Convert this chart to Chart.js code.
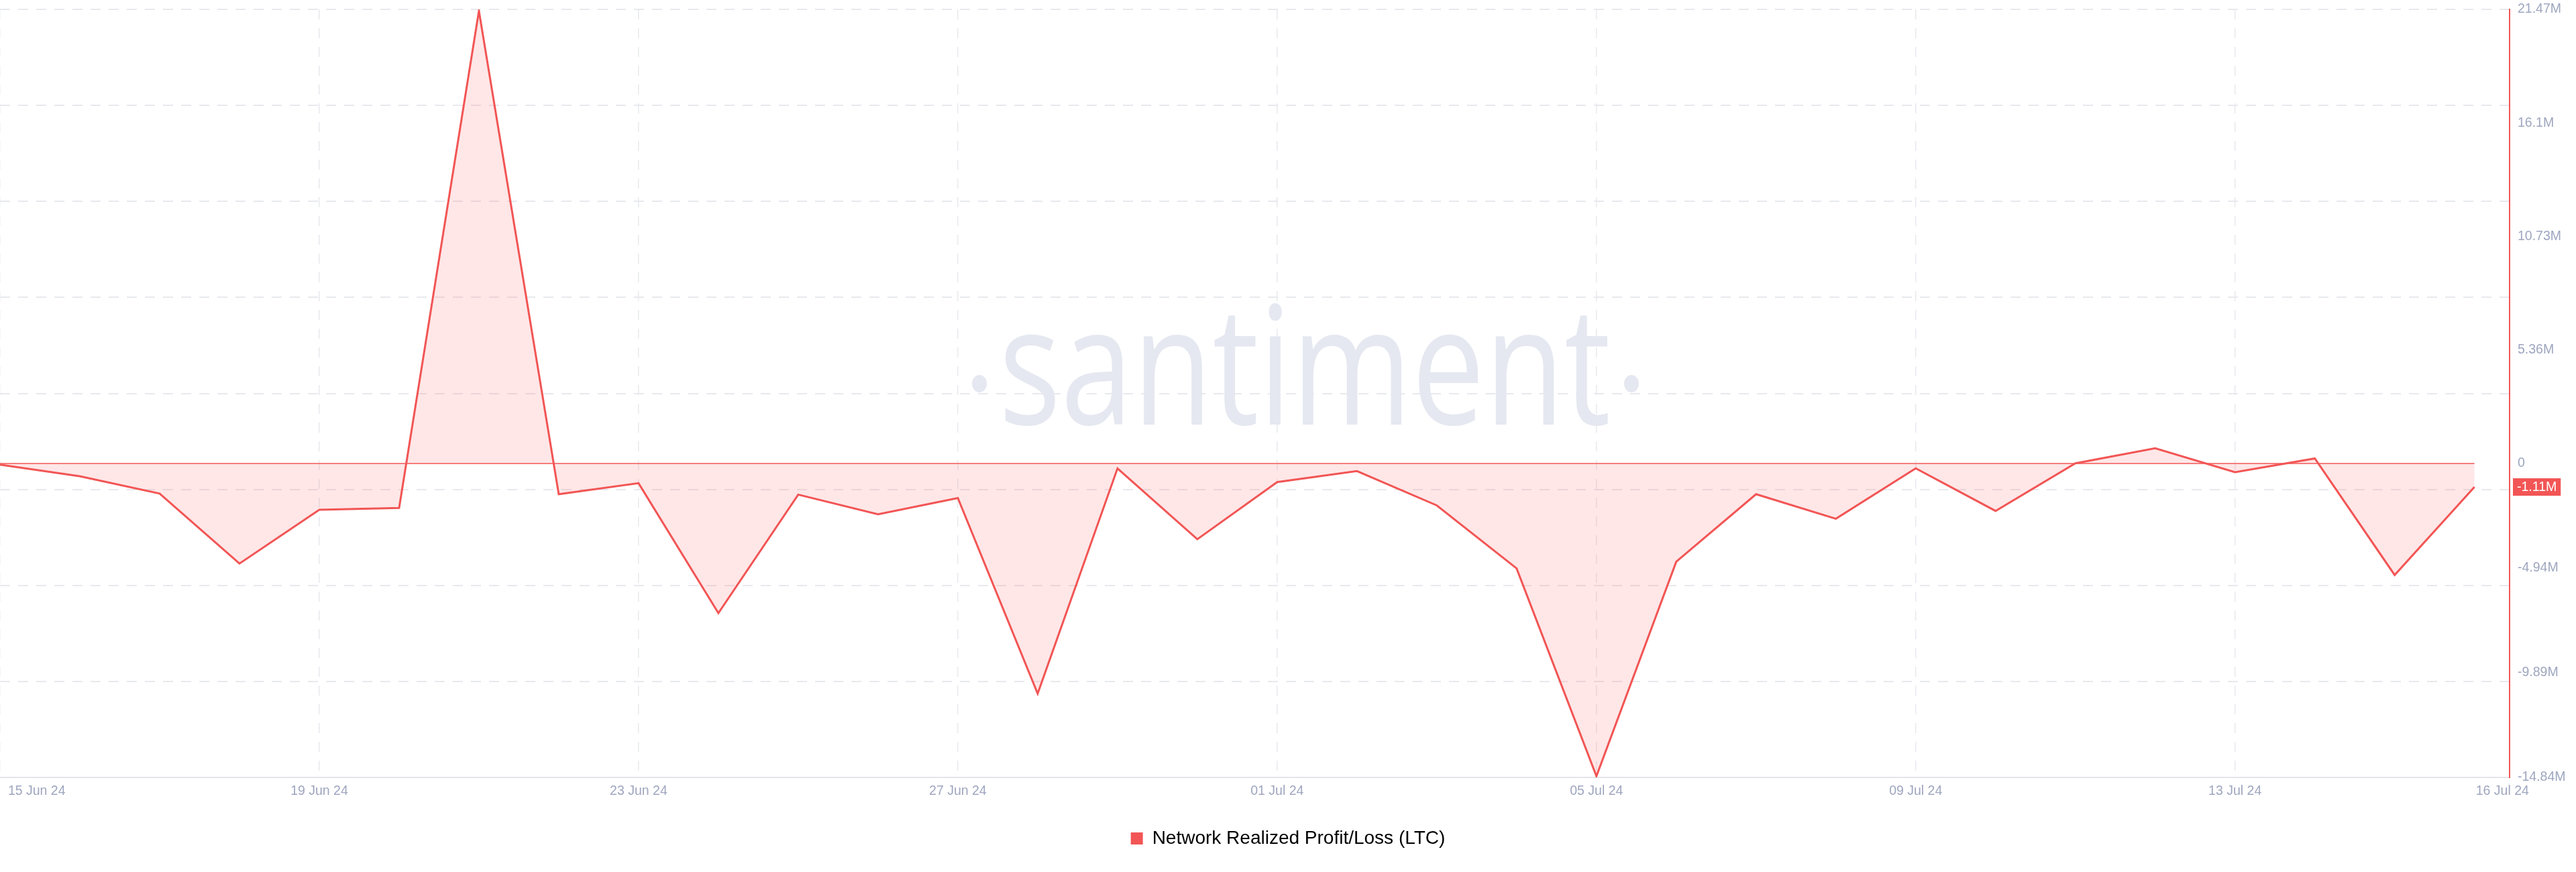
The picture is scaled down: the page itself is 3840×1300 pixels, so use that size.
<!DOCTYPE html>
<html><head><meta charset="utf-8">
<script src="https://cdn.jsdelivr.net/npm/chart.js@4.4.1/dist/chart.umd.min.js"></script>
<style>html,body{margin:0;padding:0;background:#fff;} canvas{display:block;}</style>
</head><body>
<canvas id="c" width="3840" height="1300"></canvas>
<script>
// ---- data ----
const dates = ['15 Jun 24','16 Jun 24','17 Jun 24','18 Jun 24','19 Jun 24','20 Jun 24','21 Jun 24','22 Jun 24',
  '23 Jun 24','24 Jun 24','25 Jun 24','26 Jun 24','27 Jun 24','28 Jun 24','29 Jun 24','30 Jun 24',
  '01 Jul 24','02 Jul 24','03 Jul 24','04 Jul 24','05 Jul 24','06 Jul 24','07 Jul 24','08 Jul 24',
  '09 Jul 24','10 Jul 24','11 Jul 24','12 Jul 24','13 Jul 24','14 Jul 24','15 Jul 24','16 Jul 24'];
// Network Realized Profit/Loss, millions of LTC
const values = [-0.05, -0.60, -1.42, -4.73, -2.19, -2.10, 21.40, -1.45,
  -0.93, -7.07, -1.47, -2.40, -1.63, -10.88, -0.23, -3.58,
  -0.88, -0.36, -1.98, -4.96, -14.78, -4.64, -1.45, -2.61,
  -0.23, -2.24, 0.01, 0.72, -0.41, 0.24, -5.27, -1.11];
const xTickLabels = ['15 Jun 24','19 Jun 24','23 Jun 24','27 Jun 24','01 Jul 24','05 Jul 24','09 Jul 24','13 Jul 24','16 Jul 24'];
const yTickValues = [21.47, 16.1, 10.73, 5.36, 0, -4.94, -9.89, -14.84];
const yTickLabels = ['21.47M','16.1M','10.73M','5.36M','0','-4.94M','-9.89M','-14.84M'];
const seriesName = 'Network Realized Profit/Loss (LTC)';

// ---- style ----
const RED = '#f25555';
const FILL = 'rgba(255, 92, 92, 0.15)';
const TICK_COLOR = '#9ea6bf';
const GRID_COLOR = '#e8e9ee';
const FONT = '"Liberation Sans", Arial, sans-serif';

const xTickDays = xTickLabels.map(l => dates.indexOf(l));
const lastIdx = dates.length - 1;

const watermark = {
  id: 'watermark',
  beforeDatasetsDraw(chart) {
    const ctx = chart.ctx;
    ctx.save();
    ctx.fillStyle = '#e5e8f0';
    ctx.font = '245px "Open Sans", "Noto Sans", sans-serif';
    ctx.textAlign = 'center';
    ctx.textBaseline = 'alphabetic';
    ctx.translate(1945, 633);
    ctx.scale(0.79, 1);
    ctx.fillText('santiment', 0, 0);
    ctx.restore();
    ctx.save();
    ctx.fillStyle = '#e5e8f0';
    [1460, 2432].forEach(x => { ctx.beginPath(); ctx.ellipse(x, 572, 11, 13, 0, 0, Math.PI * 2); ctx.fill(); });
    ctx.restore();
  }
};

const lastBadge = {
  id: 'lastBadge',
  afterDraw(chart) {
    const y = chart.scales.y;
    const v = values[lastIdx];
    const py = y.getPixelForValue(v);
    const ctx = chart.ctx;
    ctx.save();
    ctx.font = '19.5px ' + FONT;
    const txt = v.toFixed(2) + 'M';
    const w = ctx.measureText(txt).width + 12;
    ctx.fillStyle = RED;
    ctx.fillRect(y.left + 5, py - 13, w, 26);
    ctx.fillStyle = '#ffffff';
    ctx.textBaseline = 'middle';
    ctx.fillText(txt, y.left + 11, py + 1);
    ctx.restore();
  }
};

new Chart(document.getElementById('c'), {
  type: 'line',
  data: {
    datasets: [
      {
        label: seriesName,
        data: values.map((v, i) => ({x: i, y: v})),
        borderColor: RED,
        backgroundColor: FILL,
        borderWidth: 3,
        fill: 'origin',
        tension: 0,
        pointRadius: 0,
        xAxisID: 'x', yAxisID: 'y'
      },
      {
        label: 'zero',
        data: values.map((v, i) => ({x: i, y: 0})),
        borderColor: RED,
        borderWidth: 1.5,
        fill: false,
        pointRadius: 0,
        xAxisID: 'x', yAxisID: 'y'
      }
    ]
  },
  options: {
    responsive: false,
    animation: false,
    layout: {padding: {top: 14, bottom: 26, left: 0, right: 0}},
    plugins: {
      legend: {
        display: true,
        position: 'bottom',
        labels: {
          boxWidth: 18, boxHeight: 18, padding: 10,
          color: '#1b1b1b',
          font: {family: FONT, size: 28},
          generateLabels: () => [{text: seriesName, fillStyle: RED, strokeStyle: RED, lineWidth: 0, datasetIndex: 0}]
        },
        onClick: null
      },
      tooltip: {enabled: false}
    },
    scales: {
      x: {
        type: 'linear', position: 'bottom',
        min: 0, max: lastIdx + 0.44,
        afterBuildTicks: ax => {
          ax.ticks = xTickDays.map((d, i) => ({value: d + (i === 0 ? 0.46 : (i === xTickDays.length - 1 ? 0.35 : 0))}));
        },
        afterFit: ax => { ax.height = 67; ax.paddingLeft = 0; ax.paddingRight = 0; },
        ticks: {
          autoSkip: false, maxRotation: 0, minRotation: 0, padding: 9,
          color: TICK_COLOR, font: {family: FONT, size: 19.5},
          callback: (v, i) => xTickLabels[i]
        },
        grid: {display: true, color: 'transparent', drawTicks: false},
        border: {display: true, color: '#e4e5ea', width: 2}
      },
      xg: {
        type: 'linear', position: 'bottom',
        min: 0, max: lastIdx + 0.44,
        afterBuildTicks: ax => { ax.ticks = xTickDays.slice(0, -1).map(d => ({value: d})); },
        afterFit: ax => { ax.height = 0; ax.paddingLeft = 0; ax.paddingRight = 0; },
        ticks: {display: false},
        grid: {color: GRID_COLOR, lineWidth: 1.5, drawTicks: false},
        border: {display: false, dash: [15, 13]}
      },
      y: {
        type: 'linear', position: 'right',
        min: -14.84, max: 21.47,
        afterBuildTicks: ax => { ax.ticks = yTickValues.map(v => ({value: v})); },
        afterFit: ax => { ax.width = 99; ax.paddingTop = 0; ax.paddingBottom = 0; },
        ticks: {
          padding: 12, color: TICK_COLOR, font: {family: FONT, size: 19.5},
          callback: (v, i) => yTickLabels[i]
        },
        grid: {display: true, color: 'transparent', drawTicks: false},
        border: {display: true, color: RED, width: 2}
      },
      yg: {
        type: 'linear', position: 'left',
        min: 0, max: 8,
        afterBuildTicks: ax => { ax.ticks = [1,2,3,4,5,6,7,8].map(v => ({value: v})); },
        afterFit: ax => { ax.width = 0; ax.paddingTop = 0; ax.paddingBottom = 0; },
        ticks: {display: false},
        grid: {color: GRID_COLOR, lineWidth: 2, drawTicks: false},
        border: {display: false, dash: [15, 12]}
      }
    }
  },
  plugins: [watermark, lastBadge]
});
</script>
</body></html>
